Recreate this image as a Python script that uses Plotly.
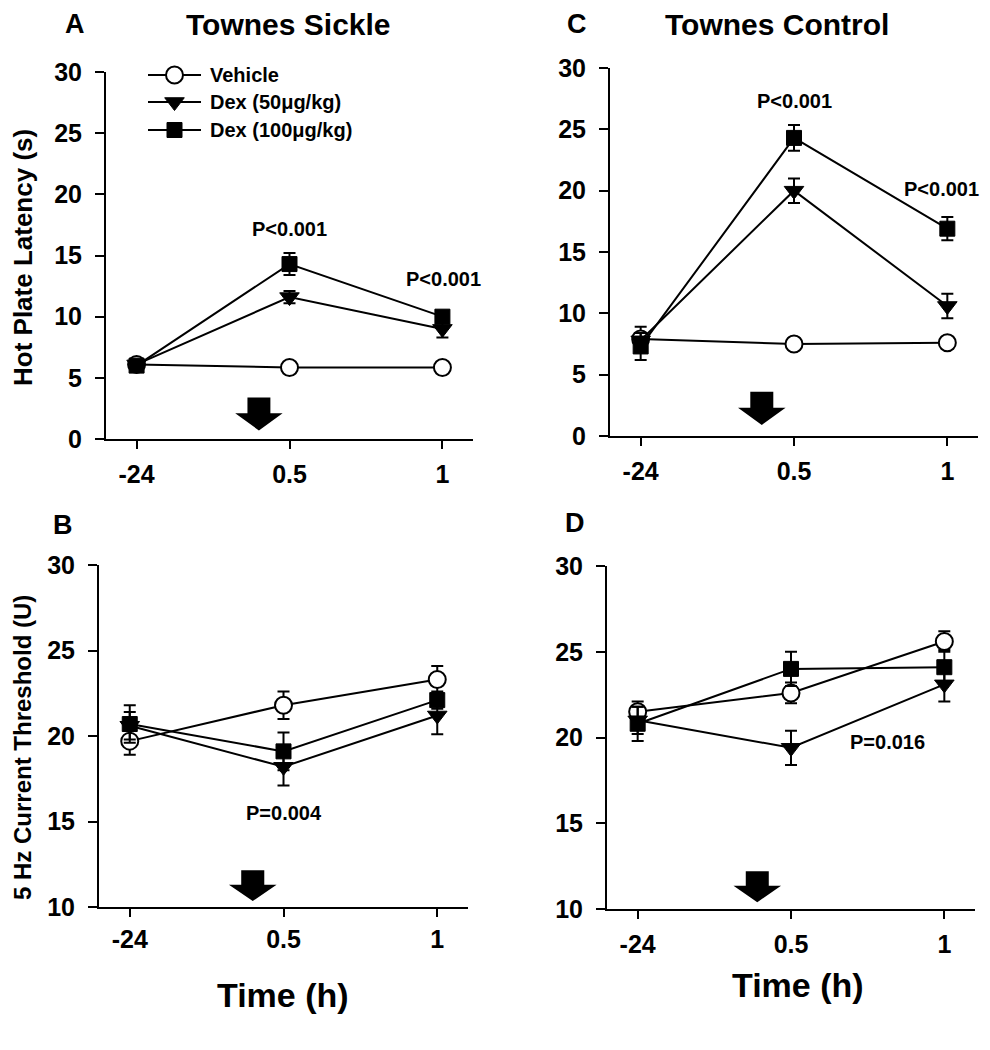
import plotly.graph_objects as go

# ---------------- data ----------------
time_labels = ["-24", "0.5", "1"]
x_idx = [0, 1, 2]
series_names = ["Vehicle", "Dex (50\u03bcg/kg)", "Dex (100\u03bcg/kg)"]

# Panel A: Townes Sickle, hot plate latency (s)
A_vehicle = [6.1, 5.85, 5.85]
A_vehicle_err = [0.3, 0.3, 0.3]
A_dex50 = [6.1, 11.6, 9.0]
A_dex50_err = [0.3, 0.5, 0.7]
A_dex100 = [6.0, 14.3, 10.0]
A_dex100_err = [0.3, 0.9, 0.4]

# Panel C: Townes Control, hot plate latency (s)
C_vehicle = [7.9, 7.5, 7.6]
C_vehicle_err = [1.0, 0.5, 0.5]
C_dex50 = [7.8, 20.0, 10.6]
C_dex50_err = [0.6, 1.0, 1.0]
C_dex100 = [7.3, 24.3, 16.9]
C_dex100_err = [1.1, 1.05, 0.95]

# Panel B: Townes Sickle, 5 Hz current threshold (U)
B_vehicle = [19.7, 21.8, 23.3]
B_vehicle_err = [0.8, 0.8, 0.8]
B_dex50 = [20.6, 18.2, 21.2]
B_dex50_err = [0.8, 1.1, 1.1]
B_dex100 = [20.7, 19.1, 22.1]
B_dex100_err = [1.1, 1.1, 0.5]

# Panel D: Townes Control, 5 Hz current threshold (U)
D_vehicle = [21.5, 22.6, 25.6]
D_vehicle_err = [0.6, 0.6, 0.6]
D_dex50 = [21.0, 19.4, 23.1]
D_dex50_err = [0.8, 1.0, 1.0]
D_dex100 = [20.8, 24.0, 24.1]
D_dex100_err = [1.0, 1.0, 1.0]

# p-value annotations: (panel, x, y, text, anchor, xshift)
p_notes = [
    ("A", 1.0, 17.2, "P<0.001", "center", 0),
    ("A", 2.01, 13.1, "P<0.001", "center", 0),
    ("C", 1.0, 27.3, "P<0.001", "center", 0),
    ("C", 2.2, 20.1, "P<0.001", "right", 3),
    ("B", 1.0, 15.5, "P=0.004", "center", 0),
    ("D", 1.63, 19.75, "P=0.016", "center", 0),
]

# injection arrows: (panel, x centre, shaft top, head start, tip)
arrows = [
    ("A", 0.80, 3.4, 2.1, 0.7),
    ("C", 0.79, 3.6, 2.3, 0.9),
    ("B", 0.80, 12.15, 11.3, 10.35),
    ("D", 0.78, 12.2, 11.35, 10.4),
]

FONT = "Arial, Liberation Sans, Helvetica, sans-serif"
W, H = 990, 1050
OFF = 8  # page body margin of the browser


def px_x(p):
    return (p - OFF) / W


def px_y(p):
    return 1 - (p - OFF) / H


panels = {
    # name: (axis suffix, x domain px, y domain px (top,bottom), y range, xtick standoff)
    "A": ("", (106, 473), (72, 439), [0, 30], 4),
    "C": ("2", (610, 978), (68, 436), [0, 30], 4),
    "B": ("3", (99, 468), (565, 907), [10, 30], 1),
    "D": ("4", (607, 975), (566, 909), [10, 30], 4),
}

panel_data = {
    "A": [(A_vehicle, A_vehicle_err), (A_dex50, A_dex50_err), (A_dex100, A_dex100_err)],
    "C": [(C_vehicle, C_vehicle_err), (C_dex50, C_dex50_err), (C_dex100, C_dex100_err)],
    "B": [(B_vehicle, B_vehicle_err), (B_dex50, B_dex50_err), (B_dex100, B_dex100_err)],
    "D": [(D_vehicle, D_vehicle_err), (D_dex50, D_dex50_err), (D_dex100, D_dex100_err)],
}

marker_styles = [
    dict(symbol="circle", size=17, color="white", line=dict(color="black", width=2)),
    dict(symbol="triangle-down", size=17, color="black", line=dict(color="black", width=1)),
    dict(symbol="square", size=15, color="black", line=dict(color="black", width=1)),
]

fig = go.Figure()

for pname, (suf, xd, yd, yr, xstand) in panels.items():
    for i, (vals, errs) in enumerate(panel_data[pname]):
        fig.add_trace(go.Scatter(
            x=x_idx, y=vals,
            mode="lines+markers",
            name=series_names[i],
            showlegend=False,
            line=dict(color="black", width=2),
            marker=marker_styles[i],
            error_y=dict(type="data", array=errs, visible=True, color="black",
                         thickness=2, width=6),
            xaxis="x" + suf, yaxis="y" + suf,
            cliponaxis=False,
        ))
    xa = dict(
        domain=[px_x(xd[0]), px_x(xd[1])],
        range=[-0.2, 2.2],
        tickmode="array", tickvals=x_idx, ticktext=time_labels,
        showline=True, linecolor="black", linewidth=2,
        ticks="outside", ticklen=8, tickwidth=2, tickcolor="black",
        showgrid=False, zeroline=False, automargin=False,
        tickfont=dict(family=FONT, size=25, color="black", weight="bold"),
        ticklabelstandoff=xstand,
        anchor="y" + suf,
        fixedrange=True,
    )
    ya = dict(
        domain=[px_y(yd[1]), px_y(yd[0])],
        range=yr,
        tickmode="linear", tick0=0, dtick=5,
        showline=True, linecolor="black", linewidth=2,
        ticks="outside", ticklen=9, tickwidth=2, tickcolor="black",
        showgrid=False, zeroline=False, automargin=False,
        tickfont=dict(family=FONT, size=25, color="black", weight="bold"),
        ticklabelstandoff=8,
        anchor="x" + suf,
        fixedrange=True,
    )
    fig.update_layout(**{"xaxis" + suf: xa, "yaxis" + suf: ya})

# ---- manual legend in a pixel-space overlay axis (values are reference pixels) ----
legend_rows_y = [75, 102, 130]
legend_line_x = [148, 201]
legend_text_x = 208
for i, name in enumerate(series_names):
    yy = legend_rows_y[i]
    fig.add_trace(go.Scatter(
        x=legend_line_x, y=[yy, yy], mode="lines",
        line=dict(color="black", width=2), showlegend=False, hoverinfo="skip",
        xaxis="x5", yaxis="y5",
    ))
    fig.add_trace(go.Scatter(
        x=[sum(legend_line_x) / 2], y=[yy], mode="markers",
        marker=marker_styles[i], showlegend=False, hoverinfo="skip",
        xaxis="x5", yaxis="y5",
    ))

fig.update_layout(
    xaxis5=dict(domain=[0, 1], range=[OFF, W + OFF], visible=False, fixedrange=True,
                anchor="y5"),
    yaxis5=dict(domain=[0, 1], range=[H + OFF, OFF], visible=False, fixedrange=True,
                anchor="x5"),
)

annotations = []
for i, name in enumerate(series_names):
    annotations.append(dict(
        x=legend_text_x, y=legend_rows_y[i], xref="x5", yref="y5", text=name,
        showarrow=False, xanchor="left", yanchor="middle",
        font=dict(family=FONT, size=20, color="black", weight="bold"),
    ))

for pname, x, y, txt, anc, xs in p_notes:
    suf = panels[pname][0]
    annotations.append(dict(
        x=x, y=y, xref="x" + suf, yref="y" + suf, text=txt, showarrow=False,
        font=dict(family=FONT, size=20, color="black", weight="bold"),
        xanchor=anc, yanchor="middle", xshift=xs,
    ))


def paper_text(txt, px, py, size, angle=0):
    return dict(
        x=px_x(px), y=px_y(py), xref="paper", yref="paper", text=txt,
        showarrow=False, textangle=angle,
        font=dict(family=FONT, size=size, color="black", weight="bold"),
        xanchor="center", yanchor="middle",
    )


annotations += [
    paper_text("A", 75, 24, 27),
    paper_text("Townes Sickle", 288, 24, 30),
    paper_text("C", 577, 24, 27),
    paper_text("Townes Control", 777, 24, 30),
    paper_text("B", 63, 525, 27),
    paper_text("D", 575, 523, 27),
    paper_text("Hot Plate Latency (s)", 23, 258, 26, -90),
    paper_text("5 Hz Current Threshold (U)", 22, 748, 24, -90),
    paper_text("Time (h)", 283, 995, 34),
    paper_text("Time (h)", 798, 985, 34),
]

shapes = []
for pname, xc, top, mid, tip in arrows:
    suf = panels[pname][0]
    sw, hw = 0.075, 0.155
    path = (f"M {xc - sw} {top} L {xc + sw} {top} L {xc + sw} {mid} L {xc + hw} {mid} "
            f"L {xc} {tip} L {xc - hw} {mid} L {xc - sw} {mid} Z")
    shapes.append(dict(type="path", path=path, xref="x" + suf, yref="y" + suf,
                       fillcolor="black", line=dict(color="black", width=0)))

fig.update_layout(
    width=W, height=H,
    margin=dict(l=0, r=0, t=0, b=0, autoexpand=False),
    paper_bgcolor="white", plot_bgcolor="rgba(0,0,0,0)",
    annotations=annotations, shapes=shapes,
    showlegend=False,
    font=dict(family=FONT, color="black"),
)

fig.write_html("out.html")
